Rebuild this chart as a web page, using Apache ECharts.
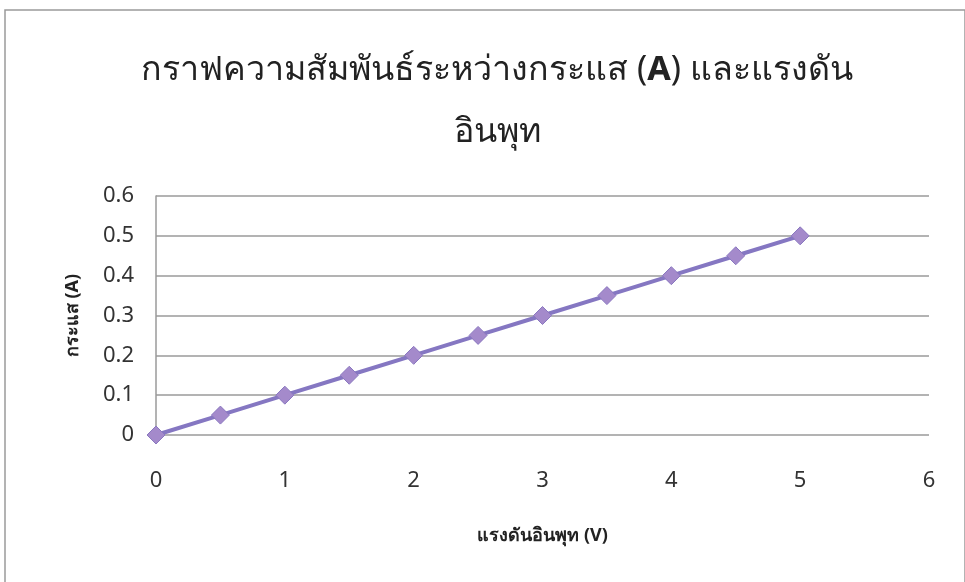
<!DOCTYPE html>
<html>
<head>
<meta charset="utf-8">
<script src="https://cdn.jsdelivr.net/npm/echarts@6/dist/echarts.min.js"></script>
<style>
  html, body { margin: 0; padding: 0; background: #fff; }
  #main { width: 965px; height: 582px; }
</style>
</head>
<body>
<div id="main"></div>
<script>
// แรงดันอินพุท (V)
const voltage = [0, 0.5, 1, 1.5, 2, 2.5, 3, 3.5, 4, 4.5, 5];
// กระแส (A)
const current = [0, 0.05, 0.1, 0.15, 0.2, 0.25, 0.3, 0.35, 0.4, 0.45, 0.5];

const chart = echarts.init(document.getElementById('main'));

chart.setOption({
  backgroundColor: '#fff',
  textStyle: { fontFamily: 'Noto Sans, sans-serif' },
  graphic: [{
    type: 'rect',
    shape: { x: 5, y: 10, width: 960, height: 580 },
    style: { fill: 'none', stroke: '#9a9a9a', lineWidth: 1.5 },
    silent: true
  }],
  title: {
    // "A" ตัวหนาเหมือนต้นฉบับ
    text: 'กราฟความสัมพันธ์ระหว่างกระแส ({b|A}) และแรงดัน\nอินพุท',
    left: 492,
    top: 34,
    textAlign: 'center',
    textStyle: {
      fontSize: 34,
      fontWeight: 'normal',
      color: '#222',
      lineHeight: 62,
      fontFamily: 'Noto Sans, sans-serif',
      rich: {
        b: { fontSize: 34, fontWeight: 'bold', color: '#222', lineHeight: 62 }
      }
    }
  },
  grid: { left: 156, right: 36, top: 196, bottom: 147 },
  xAxis: {
    type: 'value',
    min: 0,
    max: 6,
    interval: 1,
    name: 'แรงดันอินพุท (V)',
    nameLocation: 'middle',
    nameGap: 92,
    nameTextStyle: { fontSize: 18, fontWeight: 'bold', color: '#222' },
    axisLine: { show: false },
    axisTick: { show: false },
    splitLine: { show: false },
    axisLabel: { fontSize: 22, color: '#333', margin: 35 }
  },
  yAxis: {
    type: 'value',
    min: 0,
    max: 0.6,
    interval: 0.1,
    name: 'กระแส (A)',
    nameLocation: 'middle',
    nameGap: 74,
    nameTextStyle: { fontSize: 18, fontWeight: 'bold', color: '#222' },
    axisLine: { show: true, lineStyle: { color: '#9a9a9a', width: 1.5 } },
    axisTick: { show: false },
    splitLine: { show: true, lineStyle: { color: '#9a9a9a', width: 1.5 } },
    axisLabel: { fontSize: 22, color: '#333', margin: 22 }
  },
  series: [{
    type: 'line',
    data: voltage.map((v, i) => [v, current[i]]),
    symbol: 'diamond',
    symbolSize: 18,
    lineStyle: { color: '#8577c2', width: 4 },
    itemStyle: { color: '#a48acb', borderColor: '#8a78c0', borderWidth: 1 }
  }]
});
</script>
</body>
</html>
